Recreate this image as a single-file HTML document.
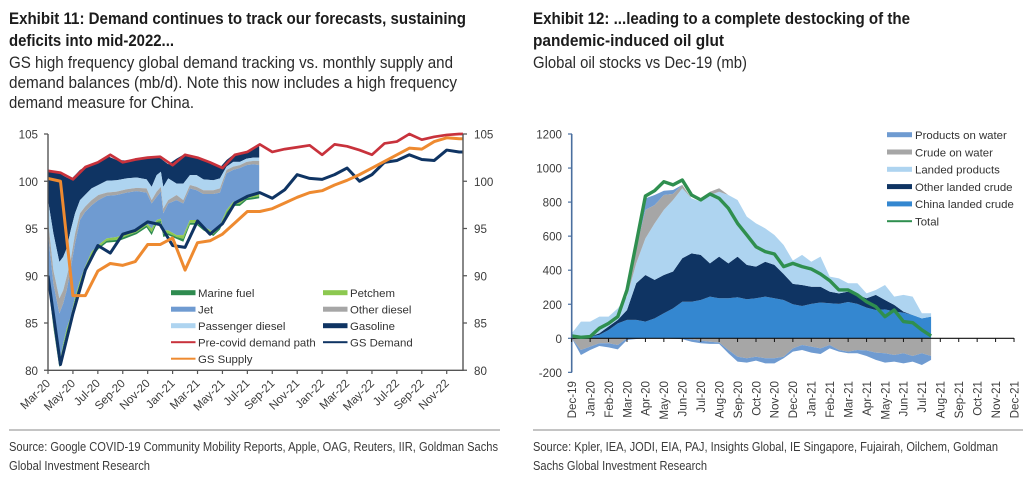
<!DOCTYPE html>
<html lang="en">
<head>
<meta charset="utf-8">
<title>Exhibits 11 and 12</title>
<style>
html,body{margin:0;padding:0;background:#fff;}
svg{display:block;font-family:"Liberation Sans",sans-serif;filter:blur(0.35px);}
.ttl{font-size:17px;font-weight:bold;fill:#1c1c1c;}
.sub{font-size:16.5px;fill:#2a2a2a;}
.src{font-size:13px;fill:#3a3a3a;}
.tick{font-size:11.6px;fill:#3c3c3c;}
.leg{font-size:11.4px;fill:#333;}
</style>
</head>
<body>
<svg id="root" xmlns="http://www.w3.org/2000/svg" width="1036" height="482" viewBox="0 0 1036 482">
  <g>
    <text class="ttl" x="9" y="24" textLength="457" lengthAdjust="spacingAndGlyphs">Exhibit 11: Demand continues to track our forecasts, sustaining</text>
    <text class="ttl" x="9" y="46" textLength="165" lengthAdjust="spacingAndGlyphs">deficits into mid-2022...</text>
    <text class="sub" x="9" y="68" textLength="444" lengthAdjust="spacingAndGlyphs">GS high frequency global demand tracking vs. monthly supply and</text>
    <text class="sub" x="9" y="88" textLength="448" lengthAdjust="spacingAndGlyphs">demand balances (mb/d). Note this now includes a high frequency</text>
    <text class="sub" x="9" y="108" textLength="185" lengthAdjust="spacingAndGlyphs">demand measure for China.</text>
  </g>
  <g>
    <text class="ttl" x="533" y="24" textLength="377" lengthAdjust="spacingAndGlyphs">Exhibit 12: ...leading to a complete destocking of the</text>
    <text class="ttl" x="533" y="46" textLength="191" lengthAdjust="spacingAndGlyphs">pandemic-induced oil glut</text>
    <text class="sub" x="533" y="68" textLength="214" lengthAdjust="spacingAndGlyphs">Global oil stocks vs Dec-19 (mb)</text>
  </g>
  <clipPath id="leftClip"><rect x="48" y="120" width="415" height="250.5"></rect></clipPath>
  <g id="leftChart"></g>
  <g id="rightChart"></g>
  <g>
    <rect x="9" y="429" width="491" height="2" fill="#c4c4c4"></rect>
    <text class="src" x="9" y="451" textLength="489" lengthAdjust="spacingAndGlyphs">Source: Google COVID-19 Community Mobility Reports, Apple, OAG, Reuters, IIR, Goldman Sachs</text>
    <text class="src" x="9" y="470" textLength="141" lengthAdjust="spacingAndGlyphs">Global Investment Research</text>
  </g>
  <g>
    <rect x="533" y="429" width="490" height="2" fill="#c4c4c4"></rect>
    <text class="src" x="533" y="451" textLength="465" lengthAdjust="spacingAndGlyphs">Source: Kpler, IEA, JODI, EIA, PAJ, Insights Global, IE Singapore, Fujairah, Oilchem, Goldman</text>
    <text class="src" x="533" y="470" textLength="174" lengthAdjust="spacingAndGlyphs">Sachs Global Investment Research</text>
  </g>
</svg>
<script>
// ---------- Exhibit 11 data (mb/d) ----------
const demandMonths = ["Mar-20","Apr-20","May-20","Jun-20","Jul-20","Aug-20","Sep-20","Oct-20","Nov-20","Dec-20","Jan-21","Feb-21","Mar-21","Apr-21","May-21","Jun-21","Jul-21","Aug-21","Sep-21","Oct-21","Nov-21","Dec-21","Jan-22","Feb-22","Mar-22","Apr-22","May-22","Jun-22","Jul-22","Aug-22","Sep-22","Oct-22","Nov-22","Dec-22","Jan-23"];
const demandTicks = [80,85,90,95,100,105];
const preCovidPath = [101.1,100.9,100.2,101.5,102,102.8,102,102.3,102.5,102.6,101.7,102.8,102.5,102,101.4,102.8,103.1,103.9,103.1,103.4,103.6,103.8,102.8,103.9,103.7,103.3,102.8,104,104.2,105,104.4,104.7,104.9,105,105];
const gsDemand = [90,80.6,86,90.6,93.2,92.4,94.4,94.8,95.7,95.4,93.2,93,95.8,94.4,95.5,97.7,98.4,98.8,98.2,99.1,100.7,100.3,100.2,100.7,101.4,100,100.7,102,102.2,102.8,102.3,102.2,103.3,103.1,103.1];
const gsSupply = [100.3,100,87.9,87.9,90.5,91.3,91.1,91.5,93.3,93.3,94,90.6,93.5,93.7,94.4,95.6,96.8,96.8,97.1,97.7,98.3,98.8,99,99.6,100.1,100.7,101.4,102.1,102.8,103.5,103.4,104.2,104.6,104.5,104.5];
const stackDates = [0,0.43,0.91,1.22,1.5,1.82,2.17,2.57,2.97,3.5,4.04,4.71,5.51,6.31,7.11,7.91,8.32,8.72,9.06,9.25,9.65,10.32,10.86,11.39,11.93,12.47,13.27,13.8,14.33,14.87,15.4,15.94,16.48,16.95];
const gasolineTop = [101.1,101,100.9,100.6,100.4,100.2,100.65,101.2,101.5,101.75,102,102.7,102.25,102.2,102.35,102.5,102.5,102.6,102.4,102.2,101.8,102.4,102.8,102.65,102.5,102.2,101.7,101.45,102.25,102.8,102.95,103.15,103.6,103.95];
const passengerDieselTop = [98,94.5,91.45,92,92.9,94.8,96.6,98,98.55,99.25,99.6,100.05,100.1,100.3,100.4,100.2,99.4,100.65,101,99.4,100.3,99.75,99.75,100.65,100.65,100.2,100.1,100.3,101.55,102.05,102.05,102.4,102.5,102.5];
const otherDieselTop = [95.9,90.6,87.6,88.45,89.9,91.65,94.45,96.6,97.3,98,98.55,98.8,98.9,99.15,99.3,99.25,98,98.9,99.4,97.1,98,98.55,98,99.6,99.4,99.05,99.05,99.25,101.2,101.55,101.7,102.05,102.15,102.15];
const jetTop = [94.45,89.15,86,87.05,88.45,90.75,93.4,95.9,96.75,97.45,98,98.45,98.55,98.8,98.95,98.8,97.65,98.35,98.9,96.6,97.65,98,97.65,99.25,99.05,98.65,98.65,98.8,100.85,101.2,101.4,101.7,101.8,101.7];
const petchemTop = [89.9,84.95,80.7,82.8,84.4,85.65,87.75,89.5,90.95,92.55,93.25,93.95,94.1,94.45,94.8,95.55,95,95.9,96.05,94.8,94.8,94.3,94.3,95.9,95.9,95.2,94.65,95.35,96.95,97.85,97.85,98.4,98.5,98.65];
const marineTop = [89.7,84.7,80.5,82.6,84.1,85.4,87.5,89.2,90.7,92.2,93,93.7,93.8,94.2,94.6,95.3,94.6,95.7,95.8,94.4,94.5,94.1,93.9,95.6,95.6,95,94.4,95.1,96.7,97.6,97.6,98.2,98.3,98.4];
const marineBase = [89.5,84.5,80.3,82.4,83.9,85.2,87.3,88.9,90.4,91.9,92.8,93.5,93.6,94,94.4,95.1,94.3,95.5,95.6,94.1,94.3,93.9,93.6,95.4,95.4,94.8,94.2,94.9,96.5,97.4,97.4,98,98.1,98.2];

// ---------- Exhibit 12 data (mb) ----------
const stockMonths = ["Dec-19","Jan-20","Feb-20","Mar-20","Apr-20","May-20","Jun-20","Jul-20","Aug-20","Sep-20","Oct-20","Nov-20","Dec-20","Jan-21","Feb-21","Mar-21","Apr-21","May-21","Jun-21","Jul-21","Aug-21","Sep-21","Oct-21","Nov-21","Dec-21"];
const stockTicks = [-200,0,200,400,600,800,1000,1200];
const stockDates = [0,0.5,1,1.5,2,2.5,3,3.5,4,4.5,5,5.5,6,6.5,7,7.5,8,8.5,9,9.5,10,10.5,11,11.5,12,12.5,13,13.5,14,14.5,15,15.5,16,16.5,17,17.5,18,18.5,19,19.5];
const chinaCrudeTop = [0,0,10,20,49,88,108,108,98,117,147,176,215,215,225,245,235,235,241,229,235,245,235,225,200,190,202,210,206,202,213,202,180,166,170,157,151,137,117,127];
const otherCrudeTop = [0,0,10,30,69,108,166,323,372,343,372,392,470,499,490,440,480,440,480,431,421,450,431,378,320,313,303,303,274,264,274,255,235,255,225,196,157,137,117,127];
const landedProductsTop = [29,98,98,127,127,176,245,440,587,675,754,812,881,822,803,842,861,842,812,715,675,646,607,548,456,490,450,480,362,352,323,323,264,284,313,245,255,245,147,147];
const crudeWaterTop = [29,98,98,127,127,176,245,529,754,783,842,848,901,822,803,861,881,842,812,715,675,646,607,548,456,490,450,480,362,352,323,323,264,284,313,245,255,245,147,147];
const productsWaterTop = [29,98,98,127,127,176,245,538,822,842,867,871,901,822,803,861,881,842,812,715,675,646,607,548,456,490,450,480,362,352,323,323,264,284,313,245,255,245,147,147];
const crudeWaterLow = [0,-69,-49,-29,-29,-39,0,0,0,0,0,0,0,-6,-14,-20,-25,-69,-108,-117,-108,-117,-117,-108,-59,-39,-49,-59,-39,-69,-78,-69,-72,-84,-88,-98,-88,-104,-88,-104];
const productsWaterLow = [0,-98,-69,-45,-53,-65,-10,-4,0,0,0,-3,-5,-20,-29,-33,-33,-88,-137,-143,-131,-147,-147,-117,-78,-69,-84,-92,-59,-78,-88,-88,-104,-127,-143,-137,-147,-137,-157,-127];
const stockTotal = [14,6,10,59,88,127,284,558,836,867,920,901,930,842,813,848,822,764,675,607,538,509,495,421,440,421,407,378,339,284,284,255,215,186,127,166,98,92,49,14];

// ---------- helpers ----------
const NS = 'http://www.w3.org/2000/svg';
function mk(parent, tag, attrs) {
  const el = document.createElementNS(NS, tag);
  for (const k in attrs) el.setAttribute(k, attrs[k]);
  parent.appendChild(el);
  return el;
}
function linePath(xs, ys, fx, fy) {
  return xs.map((v, i) => (i ? 'L' : 'M') + fx(v).toFixed(2) + ' ' + fy(ys[i]).toFixed(2)).join('');
}
function bandPath(xs, top, low, fx, fy) {
  let d = linePath(xs, top, fx, fy);
  for (let i = xs.length - 1; i >= 0; i--) d += 'L' + fx(xs[i]).toFixed(2) + ' ' + fy(low[i]).toFixed(2);
  return d + 'Z';
}

// ---------- Exhibit 11 ----------
const L = document.getElementById('leftChart');
const lx = i => 48 + 12.46 * i;
const ly = v => 134 + (105 - v) * 9.45;
const demandIdx = demandMonths.map((m, i) => i);

const leftBands = [
  {name:'gasoline-area', top:gasolineTop, low:passengerDieselTop, fill:'#0f3463'},
  {name:'passenger-diesel-area', top:passengerDieselTop, low:otherDieselTop, fill:'#aed4f0'},
  {name:'other-diesel-area', top:otherDieselTop, low:jetTop, fill:'#a6a6a6'},
  {name:'jet-area', top:jetTop, low:petchemTop, fill:'#6f9bd1'},
  {name:'petchem-area', top:petchemTop, low:marineTop, fill:'#8cc850'},
  {name:'marine-fuel-area', top:marineTop, low:marineBase, fill:'#2e8b4f'}
];
leftBands.forEach(b => {
  const el = mk(L, 'path', {d: bandPath(stackDates, b.top, b.low, lx, ly), fill: b.fill});
  
  
});
const leftLines = [
  {name:'pre-covid-demand-line', vals:preCovidPath, stroke:'#c8323c', w:2.7},
  {name:'gs-demand-line', vals:gsDemand, stroke:'#0f3463', w:3},
  {name:'gs-supply-line', vals:gsSupply, stroke:'#ee8a30', w:3}
];
leftLines.forEach(s => {
  const el = mk(L, 'path', {d: linePath(demandIdx, s.vals, lx, ly), fill:'none', stroke:s.stroke, 'stroke-width':s.w, 'stroke-linejoin':'round', 'clip-path':'url(#leftClip)'});
  
  
});

const axisGrey = '#555';
const leftAxis = mk(L, 'path', {d:'M48 134V370.3H463V134', fill:'none', stroke:axisGrey, 'stroke-width':1.4});


demandTicks.forEach(t => {
  const mark = mk(L, 'path', {d:'M44 ' + ly(t) + 'H48M463 ' + ly(t) + 'H467', stroke:axisGrey, 'stroke-width':1.2, fill:'none'});
  
  
  const a = mk(L, 'text', {x:38, y:ly(t) + 4.5, 'text-anchor':'end', class:'tick'});
  a.textContent = t;
  
  
  const b = mk(L, 'text', {x:474, y:ly(t) + 4.5, class:'tick'});
  b.textContent = t;
  
  
});
demandMonths.forEach((m, i) => {
  if (i % 2 || i > 32) return;
  const mark = mk(L, 'path', {d:'M' + lx(i) + ' 370V374', stroke:axisGrey, 'stroke-width':1.2});
  
  
  const t = mk(L, 'text', {x:0, y:0, 'text-anchor':'end', class:'tick', transform:'translate(' + (lx(i) + 3) + ' 384) rotate(-45)'});
  t.textContent = m;
  
  
});

const leftLegendLabels = ['Marine fuel','Petchem','Jet','Other diesel','Passenger diesel','Gasoline','Pre-covid demand path','GS Demand','GS Supply'];
const leftLegendColors = ['#2e8b4f','#8cc850','#6f9bd1','#a6a6a6','#aed4f0','#0f3463','#c8323c','#0f3463','#ee8a30'];
leftLegendLabels.forEach((label, i) => {
  const col = i % 2, row = (i - col) / 2;
  const x = col ? 323 : 171, y = 292.7 + row * 16.5;
  const thick = i < 6 ? 5 : 2;
  const sw = mk(L, 'rect', {x:x, y:y - thick / 2, width:24.5, height:thick, fill:leftLegendColors[i]});
  
  
  const t = mk(L, 'text', {x:x + 27, y:y + 4.3, class:'leg'});
  t.textContent = label;
  
  
});

// ---------- Exhibit 12 ----------
const R = document.getElementById('rightChart');
const rx = m => 571.7 + 18.43 * m;
const ry = v => 338.3 - v * 0.17025;
const zeros = stockDates.map(() => 0);
const rightBands = [
  {name:'china-landed-crude-area', top:chinaCrudeTop, low:zeros, fill:'#3487d0'},
  {name:'other-landed-crude-area', top:otherCrudeTop, low:chinaCrudeTop, fill:'#0f3463'},
  {name:'landed-products-area', top:landedProductsTop, low:otherCrudeTop, fill:'#aed4f0'},
  {name:'crude-on-water-area', top:crudeWaterTop, low:landedProductsTop, fill:'#a6a6a6'},
  {name:'products-on-water-area', top:productsWaterTop, low:crudeWaterTop, fill:'#6f9bd1'},
  {name:'crude-on-water-negative-area', top:zeros, low:crudeWaterLow, fill:'#a6a6a6'},
  {name:'products-on-water-negative-area', top:crudeWaterLow, low:productsWaterLow, fill:'#6f9bd1'}
];
rightBands.forEach(b => {
  const el = mk(R, 'path', {d: bandPath(stockDates, b.top, b.low, rx, ry), fill: b.fill});
  
  
});
const zeroAxis = mk(R, 'path', {d:'M571.7 ' + ry(0) + 'H' + rx(24), stroke:'#111', 'stroke-width':1.2, fill:'none'});


const totalLine = mk(R, 'path', {d: linePath(stockDates, stockTotal, rx, ry), fill:'none', stroke:'#2f8f4f', 'stroke-width':3.4, 'stroke-linejoin':'round'});


const stockAxis = mk(R, 'path', {d:'M571.7 ' + ry(1200) + 'V' + ry(-200), stroke:'#4a6f9f', 'stroke-width':1.6, fill:'none'});


stockTicks.forEach(t => {
  const mark = mk(R, 'path', {d:'M568 ' + ry(t) + 'H572', stroke:'#4a6f9f', 'stroke-width':1.2});
  
  
  const a = mk(R, 'text', {x:562, y:ry(t) + 4.5, 'text-anchor':'end', class:'tick'});
  a.textContent = t;
  
  
});
stockMonths.forEach((m, i) => {
  const mark = mk(R, 'path', {d:'M' + rx(i) + ' 338V342', stroke:'#111', 'stroke-width':1});
  
  
  const t = mk(R, 'text', {x:0, y:0, 'text-anchor':'end', class:'tick', transform:'translate(' + (rx(i) + 4.3) + ' 381) rotate(-90)'});
  t.textContent = m;
  
  
});
const rightLegendLabels = ['Products on water','Crude on water','Landed products','Other landed crude','China landed crude','Total'];
const rightLegendColors = ['#6f9bd1','#a6a6a6','#aed4f0','#0f3463','#3487d0','#2f8f4f'];
rightLegendLabels.forEach((label, i) => {
  const y = 134.7 + i * 17.3;
  const thick = i < 5 ? 5 : 2;
  const sw = mk(R, 'rect', {x:887, y:y - thick / 2, width:25, height:thick, fill:rightLegendColors[i]});
  
  
  const t = mk(R, 'text', {x:915, y:y + 4.3, class:'leg'});
  t.textContent = label;
  
  
});
</script>
</body>
</html>
